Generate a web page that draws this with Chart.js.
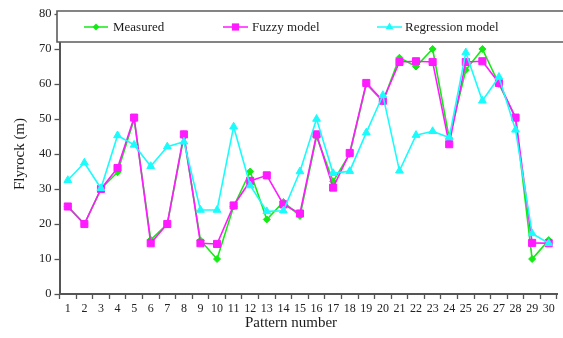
<!DOCTYPE html>
<html>
<head>
<meta charset="utf-8">
<script src="https://cdn.jsdelivr.net/npm/chart.js@4.4.1/dist/chart.umd.min.js"></script>
<style>
  html, body { margin: 0; padding: 0; background: #fff; }
  #wrap { width: 563px; height: 338px; }
</style>
</head>
<body>
<div id="wrap"><canvas id="c" width="563" height="338"></canvas></div>
<script>
// Pattern numbers on the x axis
const patterns = ['1','2','3','4','5','6','7','8','9','10','11','12','13','14','15',
                  '16','17','18','19','20','21','22','23','24','25','26','27','28','29','30'];

// Flyrock distance (m)
const measured = [25, 20, 30, 34.8, 50, 15.5, 20, 45, 15.3, 10, 25, 35, 21.3, 26.3, 22.3,
                  45, 32.2, 40, 60, 55, 67.5, 65, 70, 44.5, 64, 70, 60, 50.3, 10, 15.4];
const fuzzyModel = [25, 20, 30, 36, 50.4, 14.5, 20, 45.6, 14.5, 14.3, 25.3, 32.3, 33.9, 25.6, 23,
                    45.6, 30.4, 40.3, 60.3, 55.2, 66.3, 66.5, 66.3, 42.8, 66.3, 66.5, 60.3, 50.4, 14.6, 14.5];
const regressionModel = [32.5, 37.5, 30.2, 45.3, 42.6, 36.5, 42.1, 43.5, 24, 24, 47.8, 31, 23.6, 23.8, 35,
                         50, 34.5, 35.1, 46.1, 56.8, 35.2, 45.4, 46.5, 44.7, 69, 55.2, 62, 46.9, 17.3, 14.5];

const yMin = 0, yMax = 80, yStep = 10;
const xTitle = 'Pattern number';
const yTitle = 'Flyrock (m)';

const GREEN = '#14ea14', MAGENTA = '#ff1aff', CYAN = '#1afcfc';
const SERIF = '"Liberation Serif", "Times New Roman", serif';

// Draws a single legend marker
function marker(ctx, style, x, y, color) {
  ctx.fillStyle = color;
  ctx.beginPath();
  if (style === 'rectRot') {
    const r = 3.5;
    ctx.moveTo(x, y - r); ctx.lineTo(x + r, y); ctx.lineTo(x, y + r); ctx.lineTo(x - r, y);
  } else if (style === 'rect') {
    const s = 3.6;
    ctx.rect(x - s, y - s, 2 * s, 2 * s);
  } else {
    const r = 4.5;
    ctx.moveTo(x, y - r); ctx.lineTo(x + r * 0.87, y + r * 0.5); ctx.lineTo(x - r * 0.87, y + r * 0.5);
  }
  ctx.closePath();
  ctx.fill();
}

// Boxed legend across the top of the plot, plus the x-axis caption
const boxLegend = {
  id: 'boxLegend',
  afterDraw(chart) {
    const ctx = chart.ctx;
    const left = 57, top = 11, bottom = 42, right = 600;
    ctx.save();
    ctx.fillStyle = '#fff';
    ctx.fillRect(left, top, right - left, bottom - top);
    ctx.strokeStyle = '#5c5c5c';
    ctx.lineWidth = 1.6;
    ctx.beginPath();
    ctx.moveTo(right, top); ctx.lineTo(left, top); ctx.lineTo(left, bottom); ctx.lineTo(right, bottom);
    ctx.stroke();

    const slots = [{ x0: 84, x1: 108, tx: 113 }, { x0: 223, x1: 248, tx: 252 }, { x0: 377, x1: 402, tx: 405 }];
    const y = 27;
    ctx.font = '13px ' + SERIF;
    ctx.textBaseline = 'middle';
    chart.data.datasets.forEach((ds, i) => {
      const s = slots[i];
      ctx.strokeStyle = ds.borderColor;
      ctx.lineWidth = 1.5;
      ctx.beginPath(); ctx.moveTo(s.x0, y); ctx.lineTo(s.x1, y); ctx.stroke();
      marker(ctx, ds.pointStyle, (s.x0 + s.x1) / 2, y, ds.borderColor);
      ctx.fillStyle = '#1a1a1a';
      ctx.textAlign = 'left';
      ctx.fillText(ds.label, s.tx, y + 0.5);
    });

    // x-axis caption
    ctx.font = '15px ' + SERIF;
    ctx.fillStyle = '#1a1a1a';
    ctx.textAlign = 'center';
    ctx.textBaseline = 'alphabetic';
    ctx.fillText(xTitle, 291, 327);
    ctx.restore();
  }
};

new Chart(document.getElementById('c'), {
  type: 'line',
  data: {
    labels: patterns,
    datasets: [
      { label: 'Measured', data: measured, borderColor: GREEN, backgroundColor: GREEN,
        pointStyle: 'rectRot', pointRadius: 3.5, borderWidth: 1.6, pointBorderWidth: 1, order: 3 },
      { label: 'Fuzzy model', data: fuzzyModel, borderColor: MAGENTA, backgroundColor: MAGENTA,
        pointStyle: 'rect', pointRadius: 5, borderWidth: 1.6, pointBorderWidth: 1, order: 2 },
      { label: 'Regression model', data: regressionModel, borderColor: CYAN, backgroundColor: CYAN,
        pointStyle: 'triangle', pointRadius: 4.5, borderWidth: 1.6, pointBorderWidth: 1, order: 1 }
    ]
  },
  options: {
    responsive: false,
    animation: false,
    devicePixelRatio: 1,
    layout: { padding: { top: 14, right: 1, left: 0, bottom: 0 } },
    plugins: { legend: { display: false }, tooltip: { enabled: false } },
    elements: { line: { tension: 0 } },
    scales: {
      x: {
        type: 'category',
        offset: true,
        afterFit(scale) { scale.height = 44; },
        grid: { offset: true, drawOnChartArea: false, tickLength: 5, color: '#555', tickWidth: 1.3 },
        border: { color: '#555', width: 2 },
        ticks: { autoSkip: false, maxRotation: 0, padding: 3, color: '#222', font: { family: SERIF, size: 12 } },
        title: { display: false }
      },
      y: {
        min: yMin, max: yMax,
        afterFit(scale) { scale.width = 59.5; },
        grid: { drawOnChartArea: false, tickLength: 5, color: '#555', tickWidth: 1.3 },
        border: { color: '#555', width: 2 },
        ticks: { stepSize: yStep, padding: 3, color: '#222', font: { family: SERIF, size: 12.5 } },
        title: { display: true, text: yTitle, color: '#1a1a1a', padding: { top: 11, bottom: 0 },
                 font: { family: SERIF, size: 15 } }
      }
    }
  },
  plugins: [boxLegend]
});
</script>
</body>
</html>
